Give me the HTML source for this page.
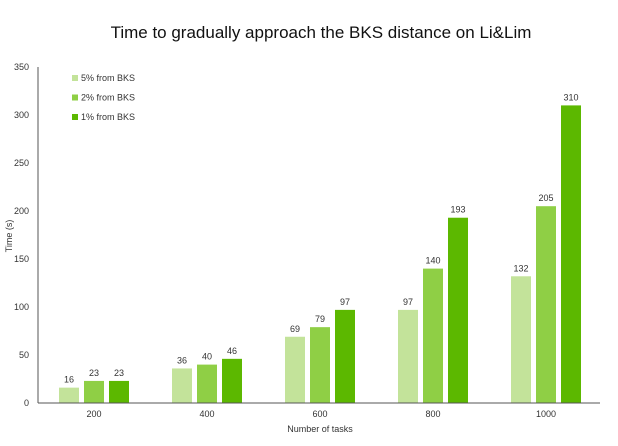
<!DOCTYPE html>
<html><head><meta charset="utf-8"><style>
body{margin:0;background:#fff;font-family:"Liberation Sans",sans-serif}
</style></head><body>
<svg width="618" height="446" id="c" style="display:block">
<text x="321" y="38" text-anchor="middle" font-size="17" fill="#111">Time to gradually approach the BKS distance on Li&amp;Lim</text>
<text x="12" y="236" transform="rotate(-90 12 236)" text-anchor="middle" font-size="9" fill="#333">Time (s)</text>
<text x="320" y="432" text-anchor="middle" font-size="9" fill="#333">Number of tasks</text>
<g id="g"></g>
</svg>
<script>
const categories=["200","400","600","800","1000"];
const seriesNames=["5% from BKS","2% from BKS","1% from BKS"];
const s5=[16,36,69,97,132];
const s2=[23,40,79,140,205];
const s1=[23,46,97,193,310];
const yTicks=[0,50,100,150,200,250,300,350];
const colors=["#c3e39a","#8fcf45","#5cb800"];
const series=[s5,s2,s1];
const ns="http://www.w3.org/2000/svg";
const g=document.getElementById('g');
const y0=403,yTop=67,yMax=350;
const y=v=>y0-(v/yMax)*(y0-yTop);
const x=i=>94+i*113;
function mk(t,a){const e=document.createElementNS(ns,t);for(const k in a)e.setAttribute(k,a[k]);g.appendChild(e);return e;}
yTicks.forEach(t=>{const e=mk('text',{x:29,y:y(t)+3,'text-anchor':'end','font-size':9,fill:'#333'});e.textContent=t;

});
categories.forEach((c,i)=>{const e=mk('text',{x:x(i),y:417,'text-anchor':'middle','font-size':9,fill:'#333'});e.textContent=c;


series.forEach((s,j)=>{const cx=x(i)+(j-1)*25;const r=mk('rect',{x:cx-10,y:y(s[i]),width:20,height:y0-y(s[i]),fill:colors[j]});


const l=mk('text',{x:cx,y:y(s[i])-5,'text-anchor':'middle','font-size':9,fill:'#333'});l.textContent=s[i];

});});
const ax=mk('line',{x1:38,y1:67,x2:38,y2:y0,stroke:'#555','stroke-width':1});


const bx=mk('line',{x1:38,y1:y0,x2:600,y2:y0,stroke:'#555','stroke-width':1});


seriesNames.forEach((n,j)=>{const ly=80+j*19.5;
const r=mk('rect',{x:72,y:ly-5,width:6,height:6,fill:colors[j]});


const t=mk('text',{x:81,y:ly+1,'font-size':9,fill:'#333'});t.textContent=n;

});
</script>
</body></html>
